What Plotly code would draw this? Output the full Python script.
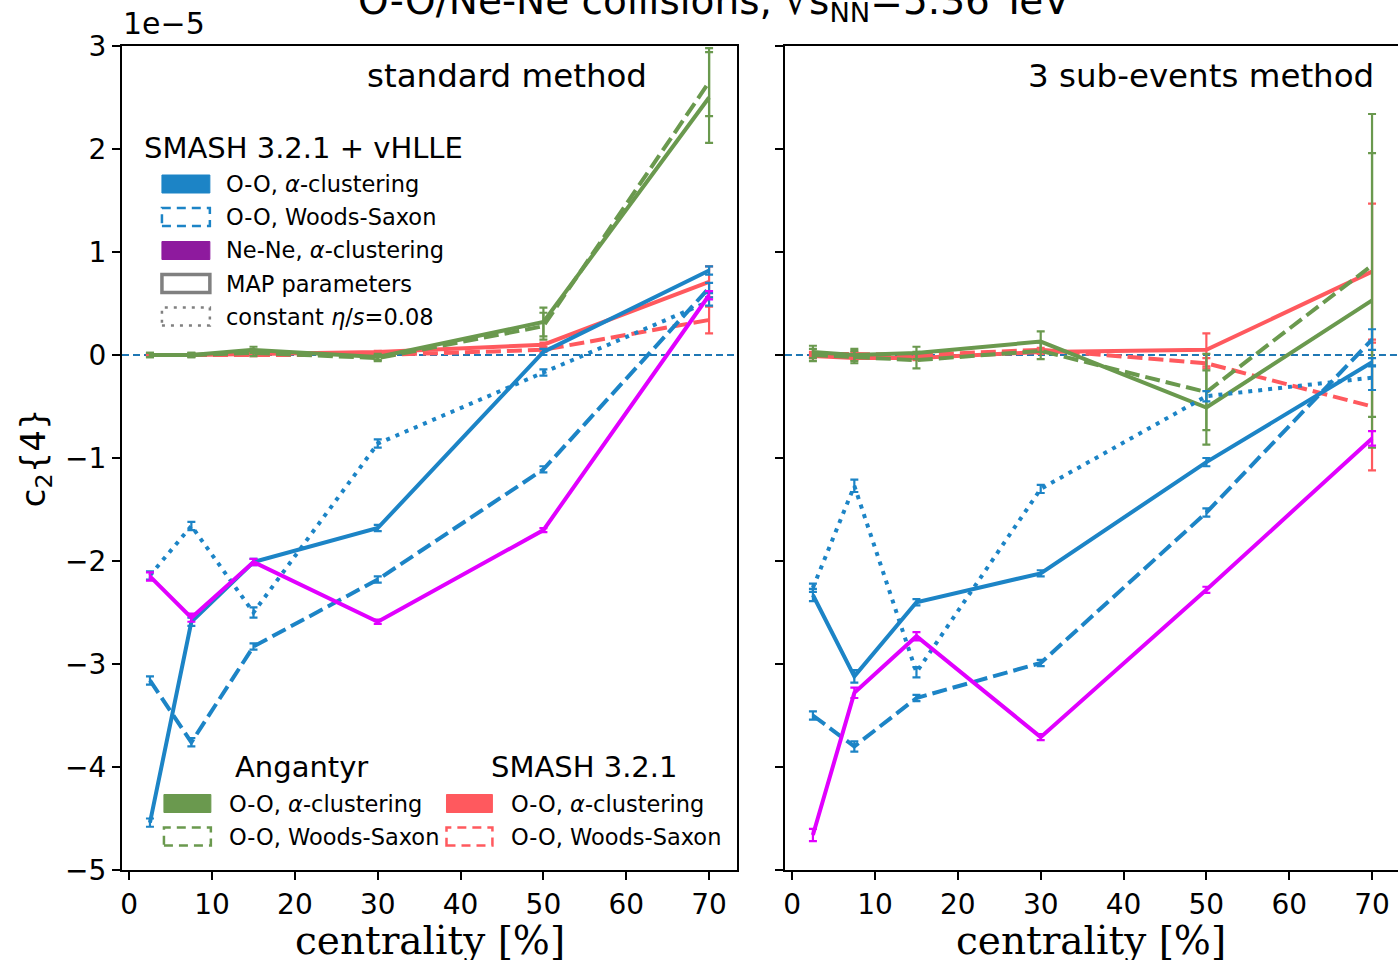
import plotly.graph_objects as go

# ---------------- data (c2{4} in units of 1e-5) ----------------
centrality = [2.5, 7.5, 15, 30, 50, 70]

# standard method
std_oo_alpha = [-4.54, -2.59, -2.01, -1.68, 0.03, 0.82]
std_oo_alpha_err = [0.04, 0.04, 0.03, 0.03, 0.03, 0.04]
std_oo_ws = [-3.16, -3.76, -2.83, -2.18, -1.11, 0.65]
std_oo_ws_err = [0.04, 0.04, 0.03, 0.03, 0.03, 0.05]
std_oo_eta = [-2.14, -1.66, -2.50, -0.86, -0.17, 0.52]
std_oo_eta_err = [0.04, 0.04, 0.05, 0.04, 0.03, 0.04]
std_nene_alpha = [-2.15, -2.55, -2.01, -2.59, -1.70, 0.58]
std_nene_alpha_err = [0.04, 0.04, 0.03, 0.02, 0.02, 0.04]
std_ang_alpha = [0.0, 0.0, 0.05, -0.02, 0.32, 2.50]
std_ang_alpha_err = [0.02, 0.02, 0.03, 0.03, 0.14, 0.44]
std_ang_ws = [0.0, 0.0, 0.02, -0.03, 0.28, 2.65]
std_ang_ws_err = [0.02, 0.02, 0.03, 0.03, 0.13, 0.33]
std_smash_alpha = [0.0, 0.0, 0.01, 0.03, 0.10, 0.71]
std_smash_alpha_err = [0.01, 0.01, 0.01, 0.01, 0.02, 0.15]
std_smash_ws = [0.0, 0.0, 0.0, 0.0, 0.05, 0.34]
std_smash_ws_err = [0.01, 0.01, 0.01, 0.01, 0.02, 0.13]

# 3 sub-events method
sub_oo_alpha = [-2.33, -3.12, -2.40, -2.12, -1.04, -0.07]
sub_oo_alpha_err = [0.06, 0.06, 0.03, 0.03, 0.04, 0.04]
sub_oo_ws = [-3.50, -3.80, -3.33, -2.99, -1.53, 0.15]
sub_oo_ws_err = [0.04, 0.05, 0.03, 0.03, 0.04, 0.10]
sub_oo_eta = [-2.26, -1.27, -3.08, -1.30, -0.40, -0.22]
sub_oo_eta_err = [0.04, 0.06, 0.05, 0.04, 0.05, 0.12]
sub_nene_alpha = [-4.66, -3.28, -2.73, -3.71, -2.28, -0.81]
sub_nene_alpha_err = [0.06, 0.05, 0.04, 0.03, 0.03, 0.07]
sub_ang_alpha = [0.03, 0.0, 0.02, 0.13, -0.51, 0.53]
sub_ang_alpha_err = [0.06, 0.06, 0.06, 0.10, 0.36, 1.43]
sub_ang_ws = [0.0, -0.02, -0.05, 0.04, -0.36, 0.87]
sub_ang_ws_err = [0.06, 0.06, 0.08, 0.08, 0.37, 1.47]
sub_smash_alpha = [-0.01, -0.03, -0.03, 0.03, 0.05, 0.81]
sub_smash_alpha_err = [0.02, 0.02, 0.02, 0.02, 0.16, 0.66]
sub_smash_ws = [0.01, 0.01, 0.0, 0.05, -0.08, -0.50]
sub_smash_ws_err = [0.02, 0.02, 0.02, 0.02, 0.05, 0.62]

x_ticks = [0, 10, 20, 30, 40, 50, 60, 70]
y_ticks = [-5, -4, -3, -2, -1, 0, 1, 2, 3]

# ---------------- styles ----------------
BLUE = "#1c84c6"
MAGENTA = "#e100ff"
PURPLE = "#8e1a9e"
GREEN = "#6a994e"
RED = "#ff595e"
GRAY = "#808080"
DASH = "15px,6px"
DOT = "4px,6px"
LW = 4

W, H = 1402, 960
ML, MR, MT, MB = 122, 0, 46, 90
PW = W - ML - MR
PH = H - MT - MB


def px(x):
    return (x - ML) / PW


def py(y):
    return (H - MB - y) / PH


fig = go.Figure()


def add(xa, ya, y, err, color, dash):
    fig.add_trace(go.Scatter(
        x=centrality, y=y, xaxis=xa, yaxis=ya, mode="lines",
        line=dict(color=color, width=LW, dash=dash),
        error_y=dict(type="data", array=err, color=color, thickness=2.2, width=4),
        showlegend=False, hoverinfo="skip"))


panels = [
    ("x", "y", std_smash_ws, std_smash_ws_err, std_smash_alpha, std_smash_alpha_err,
     std_ang_ws, std_ang_ws_err, std_ang_alpha, std_ang_alpha_err,
     std_oo_eta, std_oo_eta_err, std_oo_ws, std_oo_ws_err, std_oo_alpha, std_oo_alpha_err,
     std_nene_alpha, std_nene_alpha_err),
    ("x2", "y2", sub_smash_ws, sub_smash_ws_err, sub_smash_alpha, sub_smash_alpha_err,
     sub_ang_ws, sub_ang_ws_err, sub_ang_alpha, sub_ang_alpha_err,
     sub_oo_eta, sub_oo_eta_err, sub_oo_ws, sub_oo_ws_err, sub_oo_alpha, sub_oo_alpha_err,
     sub_nene_alpha, sub_nene_alpha_err),
]
for (xa, ya, sws, swse, sa, sae, aws, awse, aa, aae, oe, oee, ows, owse, oa, oae, na, nae) in panels:
    add(xa, ya, sws, swse, RED, DASH)
    add(xa, ya, sa, sae, RED, "solid")
    add(xa, ya, aws, awse, GREEN, DASH)
    add(xa, ya, aa, aae, GREEN, "solid")
    add(xa, ya, oe, oee, BLUE, DOT)
    add(xa, ya, ows, owse, BLUE, DASH)
    add(xa, ya, oa, oae, BLUE, "solid")
    add(xa, ya, na, nae, MAGENTA, "solid")

shapes = []
for xr, yr in [("x domain", "y"), ("x2 domain", "y2")]:
    shapes.append(dict(type="line", xref=xr, yref=yr, x0=0, x1=1, y0=0, y1=0,
                       line=dict(color="#1f77b4", width=1.8, dash="7px,4px"), layer="below"))

annotations = []


def text(x, y, s, size, xanchor="left", family="DejaVu Sans", angle=0):
    annotations.append(dict(x=px(x), y=py(y), xref="paper", yref="paper", text=s,
                            showarrow=False, xanchor=xanchor, yanchor="middle",
                            textangle=angle,
                            font=dict(family=family, size=size, color="black")))


def patch(x0, x1, yc, kind, color):
    h = 9
    d = dict(type="rect", xref="paper", yref="paper", x0=px(x0), x1=px(x1),
             y0=py(yc + h), y1=py(yc - h))
    if kind == "fill":
        d.update(fillcolor=color, line=dict(color=color, width=1))
    elif kind == "outline":
        d.update(fillcolor="rgba(0,0,0,0)", line=dict(color=color, width=3.5))
    elif kind == "dash":
        d.update(fillcolor="rgba(0,0,0,0)", line=dict(color=color, width=2.5, dash="9px,6px"))
    else:
        d.update(fillcolor="rgba(0,0,0,0)", line=dict(color=color, width=2.5, dash="3px,6px"))
    shapes.append(d)


# top legend
text(304, 148, "SMASH 3.2.1 + vHLLE", 29, "center")
rows = [184, 217, 250.5, 283.5, 316.5]
top_entries = [("fill", BLUE, "O-O, <i>α</i>-clustering"),
               ("dash", BLUE, "O-O, Woods-Saxon"),
               ("fill", PURPLE, "Ne-Ne, <i>α</i>-clustering"),
               ("outline", GRAY, "MAP parameters"),
               ("dot", GRAY, "constant <i>η</i>/<i>s</i>=0.08")]
for yc, (k, c, s) in zip(rows, top_entries):
    patch(162, 210, yc, k, c)
    text(224, yc, s, 22.5)

# bottom legends
text(302, 767, "Angantyr", 29, "center")
text(585, 767, "SMASH 3.2.1", 29, "center")
for x0, x1, tx, c in [(164, 211, 227, GREEN), (447, 493, 510, RED)]:
    patch(x0, x1, 803.5, "fill", c)
    text(tx, 803.5, "O-O, <i>α</i>-clustering", 22.5)
    patch(x0, x1, 836.5, "dash", c)
    text(tx, 836.5, "O-O, Woods-Saxon", 22.5)

# panel labels
text(650, 76, "standard method", 32.5, "right")
text(1378, 76, "3 sub-events method", 32.5, "right")
# offset text and title
text(121, 24, "1e−5", 30, "left")
text(715, 3, "O-O/Ne-Ne collisions, √<span style='text-decoration:overline'>s<sub>NN</sub></span>=5.36 TeV", 39, "center")
# axis titles
text(35, 458, "c<sub>2</sub>{4}", 34, "center", angle=-90)
text(430, 940, "centrality [%]", 39, "center", family="DejaVu Serif")
text(1093, 940, "centrality [%]", 39, "center", family="DejaVu Serif")

axis_common = dict(showline=True, mirror=True, linecolor="black", linewidth=2,
                   ticks="outside", ticklen=8, tickwidth=2, tickcolor="black",
                   showgrid=False, zeroline=False,
                   tickfont=dict(family="DejaVu Sans", size=28, color="black"))

fig.update_layout(
    width=W, height=H,
    margin=dict(l=ML, r=MR, t=MT, b=MB),
    paper_bgcolor="white", plot_bgcolor="white",
    showlegend=False,
    xaxis=dict(domain=[0, px(738)], range=[-0.875, 73.375], tickvals=x_ticks, **axis_common),
    xaxis2=dict(domain=[px(786), 1], range=[-0.875, 73.375], tickvals=x_ticks, anchor="y2", **axis_common),
    yaxis=dict(domain=[0, 1], range=[-5, 3], tickvals=y_ticks, **axis_common),
    yaxis2=dict(domain=[0, 1], range=[-5, 3], tickvals=y_ticks, anchor="x2",
                showticklabels=False, **axis_common),
    shapes=shapes,
    annotations=annotations,
)

fig.write_html("out.html", config={"displayModeBar": False},
               post_script="document.body.style.margin='0px';document.body.style.overflow='hidden';")
